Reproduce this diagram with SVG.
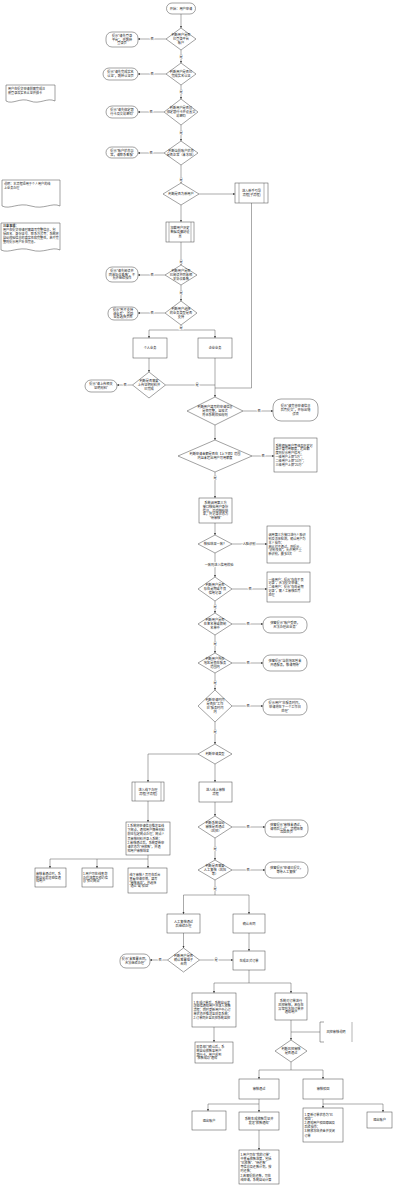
<svg xmlns="http://www.w3.org/2000/svg" width="400" height="1185" viewBox="0 0 400 1185">
<style>
.bg{fill:#fff}
.n{fill:#fff;stroke:#444;stroke-width:0.5}
.d{fill:#fff;stroke:#444;stroke-width:0.5}
.sp{fill:none;stroke:#444;stroke-width:0.4}
.e{fill:none;stroke:#555;stroke-width:0.5}
.ea{fill:none;stroke:#555;stroke-width:0.5;marker-end:url(#a)}
.t{font-family:"Liberation Sans","Noto Sans CJK SC",sans-serif;font-size:3.2px;fill:#222;text-anchor:middle}
.tl{font-family:"Liberation Sans","Noto Sans CJK SC",sans-serif;font-size:3.1px;fill:#222;text-anchor:start}
.l{font-family:"Liberation Sans","Noto Sans CJK SC",sans-serif;font-size:3.2px;fill:#222;text-anchor:middle;paint-order:stroke;stroke:#fff;stroke-width:1.6}
.b{font-weight:bold}
</style>
<defs>
<marker id="a" viewBox="0 0 6 6" refX="6" refY="3" markerUnits="userSpaceOnUse" markerWidth="2.4" markerHeight="2.4" orient="auto"><path d="M0,0 L6,3 L0,6 z" fill="#333"/></marker>
</defs>
<rect class="bg" x="0" y="0" width="400" height="1185"/>

<g id="connectors">
<path class="ea" d="M181,14 V28"/>
<path class="ea" d="M166,39 H138"/>
<path class="ea" d="M181,50 V63"/>
<path class="ea" d="M166,74 H138"/>
<path class="ea" d="M181,85 V99"/>
<path class="ea" d="M164,112 H138"/>
<path class="ea" d="M181,125 V141"/>
<path class="ea" d="M164,153 H138"/>
<path class="ea" d="M181,165 V183"/>
<path class="ea" d="M199,194 H235"/>
<path class="ea" d="M181,205 V222"/>
<path class="ea" d="M181,242 V265"/>
<path class="ea" d="M165,275 H138"/>
<path class="ea" d="M181,285 V301"/>
<path class="ea" d="M165,313 H138"/>
<path class="e" d="M181,325 V330 M149,330 H215"/>
<path class="ea" d="M149,330 V338"/>
<path class="ea" d="M215,330 V338"/>
<path class="ea" d="M149,358 V372"/>
<path class="ea" d="M132.5,385 H117"/>
<path class="e" d="M165.5,385 H215"/>
<path class="ea" d="M215,358 V397"/>
<path class="e" d="M251.5,203 V388 H215"/>
<path class="ea" d="M243,411 H273"/>
<path class="ea" d="M215,425 V440"/>
<path class="ea" d="M252,456 H274"/>
<path class="ea" d="M215,472 V498"/>
<path class="ea" d="M215,523 V535"/>
<path class="ea" d="M232,544 H267"/>
<path class="ea" d="M215,553 V577"/>
<path class="ea" d="M232,589 H267"/>
<path class="ea" d="M215,601 V613"/>
<path class="ea" d="M232,624 H263"/>
<path class="ea" d="M215,635 V653"/>
<path class="ea" d="M232,663 H263"/>
<path class="ea" d="M215,673 V690"/>
<path class="ea" d="M232,706 H263"/>
<path class="ea" d="M215,722 V744"/>
<path class="ea" d="M198,754 H148 V782"/>
<path class="ea" d="M215,764 V782"/>
<path class="ea" d="M148,801 V822"/>
<path class="e" d="M148,855 V859 M50,859 H148"/>
<path class="ea" d="M50,859 V868"/>
<path class="ea" d="M97,859 V868"/>
<path class="ea" d="M148,859 V868"/>
<path class="ea" d="M215,802 V816"/>
<path class="ea" d="M232,827 H265"/>
<path class="ea" d="M215,838 V860"/>
<path class="ea" d="M232,870 H265"/>
<path class="e" d="M215,880 V895 M183.5,895 H249"/>
<path class="ea" d="M183.5,895 V914"/>
<path class="ea" d="M249,895 V914"/>
<path class="ea" d="M183.5,933 V948"/>
<path class="ea" d="M167.5,960 H150"/>
<path class="ea" d="M199.5,960 H233"/>
<path class="ea" d="M249,933 V951"/>
<path class="e" d="M249,970 V983 M214,983 H291"/>
<path class="ea" d="M214,983 V993"/>
<path class="ea" d="M291,983 V993"/>
<path class="ea" d="M214,1027 V1042"/>
<path class="ea" d="M291,1020 V1040"/>
<path class="e" d="M291,1032 H320"/>
<path class="e" d="M291,1062 V1070 M259,1070 H323"/>
<path class="ea" d="M259,1070 V1079"/>
<path class="ea" d="M323,1070 V1079"/>
<path class="e" d="M259,1099 V1104 M208,1104 H259"/>
<path class="ea" d="M208,1104 V1111"/>
<path class="ea" d="M259,1104 V1112"/>
<path class="ea" d="M259,1130 V1150"/>
<path class="e" d="M323,1099 V1104 H383"/>
<path class="ea" d="M323,1104 V1108"/>
<path class="ea" d="M383,1104 V1112"/>

<text class="l" x="181" y="58">是</text>
<text class="l" x="181" y="93">是</text>
<text class="l" x="181" y="134">是</text>
<text class="l" x="181" y="181">是</text>
<text class="l" x="181" y="263">是</text>
<text class="l" x="181" y="294">是</text>
<text class="l" x="181" y="328.5">是</text>
<text class="l" x="152" y="40">否</text>
<text class="l" x="152" y="75">否</text>
<text class="l" x="151" y="113">否</text>
<text class="l" x="151" y="154">否</text>
<text class="l" x="152" y="276">否</text>
<text class="l" x="152" y="314">否</text>
<text class="l" x="125" y="386">否</text>
<text class="l" x="197" y="386">是</text>
<text class="l" x="259" y="412">否</text>
<text class="l" x="263" y="457">否</text>
<text class="l" x="215" y="479">是</text>
<text class="l" x="249" y="545">人脸识别</text>
<text class="l" x="219" y="566">一致则进入信用校验</text>
<text class="l" x="250" y="590">否</text>
<text class="l" x="215" y="608">是</text>
<text class="l" x="248" y="625">否</text>
<text class="l" x="215" y="645">是</text>
<text class="l" x="248" y="664">否</text>
<text class="l" x="215" y="684">是</text>
<text class="l" x="248" y="707">否</text>
<text class="l" x="215" y="733">是</text>
<text class="l" x="248" y="828">否</text>
<text class="l" x="215" y="850">是</text>
<text class="l" x="248" y="871">否</text>
<text class="l" x="215" y="890">是</text>
<text class="l" x="160" y="961">否</text>
<text class="l" x="216" y="961">是</text>
</g>

<g id="note1">
<path class="n" d="M6,85 H55 V101 C47,97 40,105 30,101 C20,97 13,105 6,101 Z"/>
<text class="tl"><tspan x="8" y="90">用户在提交申请前需完成注</tspan><tspan x="8" y="94">册登录及实名认证并绑卡</tspan></text>
</g>
<g id="note2">
<path class="n" d="M2,180 H60 V206 C52,202 44,210 31,206 C18,202 10,210 2,206 Z"/>
<text class="tl"><tspan x="4" y="184.5">说明：本流程适用于个人用户的线</tspan><tspan x="4" y="188.5">上业务办理</tspan></text>
</g>
<g id="note3">
<path class="n" d="M1,223 H60 V250 C52,246 44,254 31,250 C18,246 9,254 1,250 Z"/>
<text class="tl"><tspan x="3" y="227" class="b">注意事项：</tspan><tspan x="3" y="231">用户在提交申请时需填写完整信息，包</tspan><tspan x="3" y="235">括姓名、身份证号、联系方式等；系统将</tspan><tspan x="3" y="239">自动校验信息的真实性和完整性，若不完</tspan><tspan x="3" y="243">整则提示用户补充完善。</tspan></text>
</g>

<g id="start">
<rect class="n" x="166.5" y="3" width="29" height="11" rx="5.5"/>
<text class="t" x="181" y="9.6">开始：用户申请</text>
</g>
<g id="d1">
<polygon class="d" points="181,28 196,39 181,50 166,39"/>
<text class="t"><tspan x="181" y="36.3">判断用户是否</tspan><tspan x="181" dy="3.8">已登录平台</tspan><tspan x="181" dy="3.8">账户</tspan></text>
</g>
<g id="l1">
<rect class="n" x="106" y="32" width="32" height="15" rx="6"/>
<text class="t"><tspan x="122" y="36.8">提示“请先登录</tspan><tspan x="122" dy="3.8">平台”，并跳转</tspan><tspan x="122" dy="3.8">登录页</tspan></text>
</g>
<g id="d2">
<polygon class="d" points="181,63 196,74 181,85 166,74"/>
<text class="t"><tspan x="181" y="73.2">判断用户是否已</tspan><tspan x="181" dy="3.8">完成实名认证</tspan></text>
</g>
<g id="l2">
<rect class="n" x="103" y="68" width="35" height="12" rx="6"/>
<text class="t"><tspan x="120.5" y="73.2">提示“请先完成实名</tspan><tspan x="120.5" dy="3.8">认证”，跳转认证页</tspan></text>
</g>
<g id="d3">
<polygon class="d" points="181,99 198,112 181,125 164,112"/>
<text class="t"><tspan x="181" y="109.3">判断用户是否已</tspan><tspan x="181" dy="3.8">绑定银行卡并设置交</tspan><tspan x="181" dy="3.8">易密码</tspan></text>
</g>
<g id="l3">
<rect class="n" x="106" y="106" width="32" height="12" rx="6"/>
<text class="t"><tspan x="122" y="111.2">提示“请先绑定银</tspan><tspan x="122" dy="3.8">行卡及交易密码”</tspan></text>
</g>
<g id="d4">
<polygon class="d" points="181,141 198,153 181,165 164,153"/>
<text class="t"><tspan x="181" y="152.2">判断当前账户状态</tspan><tspan x="181" dy="3.8">是否正常（未冻结）</tspan></text>
</g>
<g id="l4">
<rect class="n" x="106" y="147" width="32" height="11" rx="5.5"/>
<text class="t"><tspan x="122" y="151.7">提示“账户状态异</tspan><tspan x="122" dy="3.8">常，请联系客服”</tspan></text>
</g>
<g id="d5">
<polygon class="d" points="181,183 199,194 181,205 163,194"/>
<text class="t" x="181" y="195.1">判断是否为新用户</text>
</g>
<g id="sp1">
<rect class="n" x="235" y="183" width="33" height="20"/>
<path class="sp" d="M239,183 V203 M264,183 V203"/>
<text class="t"><tspan x="251.5" y="192.2">进入新手引导</tspan><tspan x="251.5" dy="3.8">流程(子流程)</tspan></text>
</g>
<g id="u1">
<rect class="n" x="166" y="222" width="28" height="20"/>
<path class="sp" d="M169,222 V242 M191,222 V242"/>
<text class="t"><tspan x="180" y="229.3">加载用户历史</tspan><tspan x="180" dy="3.8">数据及偏好设</tspan><tspan x="180" dy="3.8">置</tspan></text>
</g>
<g id="d6">
<polygon class="d" points="181,265 197,275 181,285 165,275"/>
<text class="t"><tspan x="181" y="272.3">判断用户是否</tspan><tspan x="181" dy="3.8">已阅读并同意相</tspan><tspan x="181" dy="3.8">关协议条款</tspan></text>
</g>
<g id="l6">
<rect class="n" x="106" y="267" width="32" height="15" rx="6"/>
<text class="t"><tspan x="122" y="271.8">提示“请先阅读并</tspan><tspan x="122" dy="3.8">同意协议条款”，不</tspan><tspan x="122" dy="3.8">允许继续操作</tspan></text>
</g>
<g id="d7">
<polygon class="d" points="181,301 197,313 181,325 165,313"/>
<text class="t"><tspan x="181" y="310.3">判断用户选择</tspan><tspan x="181" dy="3.8">的业务类型是否</tspan><tspan x="181" dy="3.8">支持</tspan></text>
</g>
<g id="l7">
<rect class="n" x="108" y="307" width="30" height="13" rx="6"/>
<text class="t"><tspan x="123" y="310.8">提示“暂不支持</tspan><tspan x="123" dy="3.8">该业务”，返回</tspan><tspan x="123" dy="3.8">业务选择页面</tspan></text>
</g>
<g id="boxA">
<rect class="n" x="133" y="338" width="34" height="20"/>
<text class="t" x="150" y="349.1">个人业务</text>
</g>
<g id="boxB">
<rect class="n" x="198" y="338" width="34" height="20"/>
<text class="t" x="215" y="349.1">企业业务</text>
</g>
<g id="d8">
<polygon class="d" points="149,372 165.5,385 149,398 132.5,385"/>
<text class="t"><tspan x="149" y="382.3">判断是否需要</tspan><tspan x="149" dy="3.8">上传证明材料并</tspan><tspan x="149" dy="3.8">已完成</tspan></text>
</g>
<g id="l8">
<rect class="n" x="85" y="380" width="32" height="12" rx="6"/>
<text class="t"><tspan x="101" y="385.2">提示“请上传相关</tspan><tspan x="101" dy="3.8">证明材料”</tspan></text>
</g>
<g id="d9">
<polygon class="d" points="215,397 243,411 215,425 187,411"/>
<text class="t"><tspan x="215" y="408.3">判断用户填写的申请信息</tspan><tspan x="215" dy="3.8">是否完整，且格式</tspan><tspan x="215" dy="3.8">符合系统校验规则</tspan></text>
</g>
<g id="r9">
<rect class="n" x="273" y="399" width="45" height="22" rx="8"/>
<text class="t"><tspan x="295.5" y="407.3">提示“请完善申请信息</tspan><tspan x="295.5" dy="3.8">后再提交”，并标出错</tspan><tspan x="295.5" dy="3.8">误项</tspan></text>
</g>
<g id="d10">
<polygon class="d" points="215,440 252,456 215,472 178,456"/>
<text class="t"><tspan x="215" y="455.2">判断申请金额是否在【上下限】范围</tspan><tspan x="215" dy="3.8">内且未超出用户可用额度</tspan></text>
</g>
<g id="r10">
<rect class="n" x="274" y="438" width="43" height="34"/>
<text class="tl"><tspan x="275.5" y="446.6">系统根据用户等级及历史记</tspan><tspan x="275.5" dy="3.8">录计算可用额度，超出额</tspan><tspan x="275.5" dy="3.8">度则提示用户修改；</tspan><tspan x="275.5" dy="3.8">一级用户上限“5万”；</tspan><tspan x="275.5" dy="3.8">二级用户上限“10万”；</tspan><tspan x="275.5" dy="3.8">三级用户上限“20万”</tspan></text>
</g>
<g id="b11">
<rect class="n" x="199" y="498" width="33" height="25"/>
<text class="t"><tspan x="215.5" y="504">系统调用第三方</tspan><tspan x="215.5" dy="3.8">接口核验用户身份</tspan><tspan x="215.5" dy="3.8">信息，返回核验结</tspan><tspan x="215.5" dy="3.8">果，并记录状态为</tspan><tspan x="215.5" dy="3.8">“待审核”</tspan></text>
</g>
<g id="d12">
<polygon class="d" points="215,535 232,544 215,553 198,544"/>
<text class="t" x="215" y="545.1">核验结果一致？</text>
</g>
<g id="r12">
<rect class="n" x="267" y="526" width="43" height="37"/>
<text class="tl"><tspan x="268.5" y="536.1">调用第三方接口进行人脸识</tspan><tspan x="268.5" dy="3.8">别及活体检测，确认用户为</tspan><tspan x="268.5" dy="3.8">本人操作；</tspan><tspan x="268.5" dy="3.8">若比对不通过，则提示</tspan><tspan x="268.5" dy="3.8">“识别失败”，允许用户重</tspan><tspan x="268.5" dy="3.8">新识别，最多3次</tspan></text>
</g>
<g id="d13">
<polygon class="d" points="215,577 232,589 215,601 198,589"/>
<text class="t"><tspan x="215" y="586.3">判断用户是否</tspan><tspan x="215" dy="3.8">存在逾期或不良</tspan><tspan x="215" dy="3.8">信用记录</tspan></text>
</g>
<g id="r13">
<rect class="n" x="267" y="572" width="43" height="30"/>
<text class="tl"><tspan x="268.5" y="580.5">一级用户：提示“存在不良</tspan><tspan x="268.5" dy="3.8">记录”，无法提交申请；</tspan><tspan x="268.5" dy="3.8">二级用户：提示“存在逾期</tspan><tspan x="268.5" dy="3.8">记录”，需人工审核后再</tspan><tspan x="268.5" dy="3.8">处理</tspan></text>
</g>
<g id="d14">
<polygon class="d" points="215,613 232,624 215,635 198,624"/>
<text class="t"><tspan x="215" y="621.3">判断用户是否</tspan><tspan x="215" dy="3.8">在黑名单或限制</tspan><tspan x="215" dy="3.8">名单中</tspan></text>
</g>
<g id="r14">
<rect class="n" x="263" y="617" width="44" height="16" rx="7"/>
<text class="t"><tspan x="285" y="624.2">弹窗提示“账户受限，</tspan><tspan x="285" dy="3.8">无法办理此业务”</tspan></text>
</g>
<g id="d15">
<polygon class="d" points="215,653 232,663 215,673 198,663"/>
<text class="t"><tspan x="215" y="660.3">判断用户所在</tspan><tspan x="215" dy="3.8">地区是否在服务</tspan><tspan x="215" dy="3.8">范围内</tspan></text>
</g>
<g id="r15">
<rect class="n" x="263" y="655" width="44" height="16" rx="7"/>
<text class="t"><tspan x="285" y="662.2">弹窗提示“当前地区暂未</tspan><tspan x="285" dy="3.8">开通服务，敬请期待”</tspan></text>
</g>
<g id="d16">
<polygon class="d" points="215,690 232,706 215,722 198,706"/>
<text class="t"><tspan x="215" y="701.4">判断申请时间</tspan><tspan x="215" dy="3.8">是否在“工作</tspan><tspan x="215" dy="3.8">日”服务时间</tspan><tspan x="215" dy="3.8">内</tspan></text>
</g>
<g id="r16">
<rect class="n" x="263" y="699" width="44" height="16" rx="7"/>
<text class="t"><tspan x="285" y="704.3">提示用户“非服务时间，</tspan><tspan x="285" dy="3.8">申请将在下一个工作日</tspan><tspan x="285" dy="3.8">处理”</tspan></text>
</g>
<g id="d17">
<polygon class="d" points="215,744 232,754 215,764 198,754"/>
<text class="t" x="215" y="755.1">判断申请类型</text>
</g>
<g id="b19">
<rect class="n" x="132" y="782" width="32" height="19"/>
<path class="sp" d="M135,782 V801 M161,782 V801"/>
<text class="t"><tspan x="148" y="790.7">进入线下办理</tspan><tspan x="148" dy="3.8">流程(子流程)</tspan></text>
</g>
<g id="b18">
<rect class="n" x="199" y="782" width="33" height="20"/>
<text class="t"><tspan x="215.5" y="791.2">进入线上审核</tspan><tspan x="215.5" dy="3.8">流程</tspan></text>
</g>
<g id="b20">
<rect class="n" x="126" y="822" width="44" height="33"/>
<text class="tl"><tspan x="127.5" y="827">1.系统将申请信息推送至线</tspan><tspan x="127.5" dy="4.2">下网点，通知用户携带材料</tspan><tspan x="127.5" dy="4.2">前往指定网点办理；网点人</tspan><tspan x="127.5" dy="4.2">员审核材料并录入系统；</tspan><tspan x="127.5" dy="4.2">2.审核通过后，系统更新申</tspan><tspan x="127.5" dy="4.2">请状态为“待放款”，并通</tspan><tspan x="127.5" dy="4.2">知用户审核结果</tspan></text>
</g>
<g id="b21">
<rect class="n" x="35" y="868" width="31" height="19"/>
<text class="tl"><tspan x="36" y="874.8">审核未通过时，系</tspan><tspan x="36" dy="3.8">统自动发送短信通</tspan><tspan x="36" dy="3.8">知用户</tspan></text>
</g>
<g id="b22">
<rect class="n" x="82" y="868" width="31" height="19"/>
<text class="tl"><tspan x="83" y="874.8">1.用户可在线查询</tspan><tspan x="83" dy="3.8">办理进度及预约信</tspan><tspan x="83" dy="3.8">息“预约网点”</tspan></text>
</g>
<g id="b23">
<rect class="n" x="128" y="868" width="39" height="25"/>
<text class="tl"><tspan x="129.5" y="875.9">线下审核人员可在后台</tspan><tspan x="129.5" dy="3.8">查看申请详情，填写</tspan><tspan x="129.5" dy="3.8">“审核意见”，并选择</tspan><tspan x="129.5" dy="3.8">“通过”或“驳回”</tspan></text>
</g>
<g id="d26">
<polygon class="d" points="215,816 232,827 215,838 198,827"/>
<text class="t"><tspan x="215" y="824.3">判断系统自动</tspan><tspan x="215" dy="3.8">审核是否通过</tspan><tspan x="215" dy="3.8">（风控）</tspan></text>
</g>
<g id="r26">
<rect class="n" x="265" y="820" width="43" height="17" rx="7"/>
<text class="t"><tspan x="286.5" y="825.8">弹窗提示“审核未通过，</tspan><tspan x="286.5" dy="3.8">请稍后重试”，流程结束</tspan><tspan x="286.5" dy="3.8">返回首页</tspan></text>
</g>
<g id="d27">
<polygon class="d" points="215,860 232,870 215,880 198,870"/>
<text class="t"><tspan x="215" y="867.3">判断是否需要</tspan><tspan x="215" dy="3.8">人工复核（风险</tspan><tspan x="215" dy="3.8">等）</tspan></text>
</g>
<g id="r27">
<rect class="n" x="265" y="862" width="43" height="16" rx="7"/>
<text class="t"><tspan x="286.5" y="869.2">弹窗提示“申请已提交，</tspan><tspan x="286.5" dy="3.8">等待人工复核”</tspan></text>
</g>
<g id="b24">
<rect class="n" x="167" y="914" width="33" height="19"/>
<text class="t"><tspan x="183.5" y="922.7">人工复核通过</tspan><tspan x="183.5" dy="3.8">后继续办理</tspan></text>
</g>
<g id="d25">
<polygon class="d" points="183.5,948 199.5,960 183.5,972 167.5,960"/>
<text class="t"><tspan x="183.5" y="957.3">判断用户是否</tspan><tspan x="183.5" dy="3.8">确认签署电子</tspan><tspan x="183.5" dy="3.8">合同</tspan></text>
</g>
<g id="l25">
<rect class="n" x="120" y="954" width="30" height="14" rx="6"/>
<text class="t"><tspan x="135" y="960.2">提示“未签署合同，</tspan><tspan x="135" dy="3.8">无法继续办理”</tspan></text>
</g>
<g id="b28">
<rect class="n" x="233" y="914" width="32" height="19"/>
<text class="t" x="249" y="924.6">确认合同</text>
</g>
<g id="b29">
<rect class="n" x="233" y="951" width="32" height="19"/>
<text class="t" x="249" y="961.6">生成正式订单</text>
</g>
<g id="b30">
<rect class="n" x="192" y="993" width="44" height="34"/>
<text class="tl"><tspan x="193.5" y="1003.5">1.生成订单后，系统自动发</tspan><tspan x="193.5" dy="3.8">送短信通知用户并进入放款</tspan><tspan x="193.5" dy="3.8">流程；同时更新用户中心订</tspan><tspan x="193.5" dy="3.8">单状态并推送至财务系统；</tspan><tspan x="193.5" dy="3.8">2.订单同步至风控系统监控</tspan></text>
</g>
<g id="b31">
<rect class="n" x="275" y="993" width="32" height="27"/>
<text class="t"><tspan x="291" y="1001.9">系统对订单进行</tspan><tspan x="291" dy="3.8">风控审核，若存在</tspan><tspan x="291" dy="3.8">异常则冻结订单并</tspan><tspan x="291" dy="3.8">通知用户</tspan></text>
</g>
<g id="b32">
<rect class="n" x="195" y="1042" width="38" height="21"/>
<text class="tl"><tspan x="196.5" y="1047.9">财务部门确认后，系</tspan><tspan x="196.5" dy="3.8">统自动放款至用户</tspan><tspan x="196.5" dy="3.8">银行卡，用户收到</tspan><tspan x="196.5" dy="3.8">“放款成功”通知</tspan></text>
</g>
<g id="ann34">
<path class="n" d="M324,1022 H320 V1042 H324" fill="none"/>
<path class="sp" d="M352,1022 V1042"/>
<text class="t" x="336" y="1033.1">风控审核说明</text>
</g>
<g id="d35">
<polygon class="d" points="291,1040 307,1051 291,1062 275,1051"/>
<text class="t"><tspan x="291" y="1050.2">判断风控审核</tspan><tspan x="291" dy="3.8">是否通过</tspan></text>
</g>
<g id="b36">
<rect class="n" x="239" y="1079" width="40" height="20"/>
<text class="t" x="259" y="1090.1">审核通过</text>
</g>
<g id="b37">
<rect class="n" x="303" y="1079" width="40" height="20"/>
<text class="t" x="323" y="1090.1">审核驳回</text>
</g>
<g id="b38">
<rect class="n" x="192" y="1111" width="34" height="19"/>
<text class="t" x="209" y="1121.6">退出账户</text>
</g>
<g id="b39">
<rect class="n" x="239" y="1112" width="40" height="18"/>
<text class="t"><tspan x="259" y="1120.2">系统生成放款凭证并</tspan><tspan x="259" dy="3.8">发送“放款通知”</tspan></text>
</g>
<g id="b40">
<rect class="n" x="239" y="1150" width="40" height="34"/>
<text class="tl"><tspan x="240.5" y="1155.5">1.用户可在“我的订单”</tspan><tspan x="240.5" dy="4.2">中查看放款进度，包括</tspan><tspan x="240.5" dy="4.2">“已放款”、“待还款”</tspan><tspan x="240.5" dy="4.2">等信息及还款计划，按</tspan><tspan x="240.5" dy="4.2">时还款；</tspan><tspan x="240.5" dy="4.2">2.若需提前还款，可在</tspan><tspan x="240.5" dy="4.2">线申请，系统自动计算</tspan></text>
</g>
<g id="b41">
<rect class="n" x="303" y="1108" width="40" height="34"/>
<text class="tl"><tspan x="304.5" y="1115.6">1.更新订单状态为“已</tspan><tspan x="304.5" dy="4.2">驳回”；</tspan><tspan x="304.5" dy="4.2">2.通知用户驳回原因及</tspan><tspan x="304.5" dy="4.2">后续操作；</tspan><tspan x="304.5" dy="4.2">3.释放冻结资金并关闭</tspan><tspan x="304.5" dy="4.2">订单</tspan></text>
</g>
<g id="b42">
<rect class="n" x="367" y="1112" width="25" height="16"/>
<text class="t" x="379.5" y="1121.1">退出账户</text>
</g>
</svg>
